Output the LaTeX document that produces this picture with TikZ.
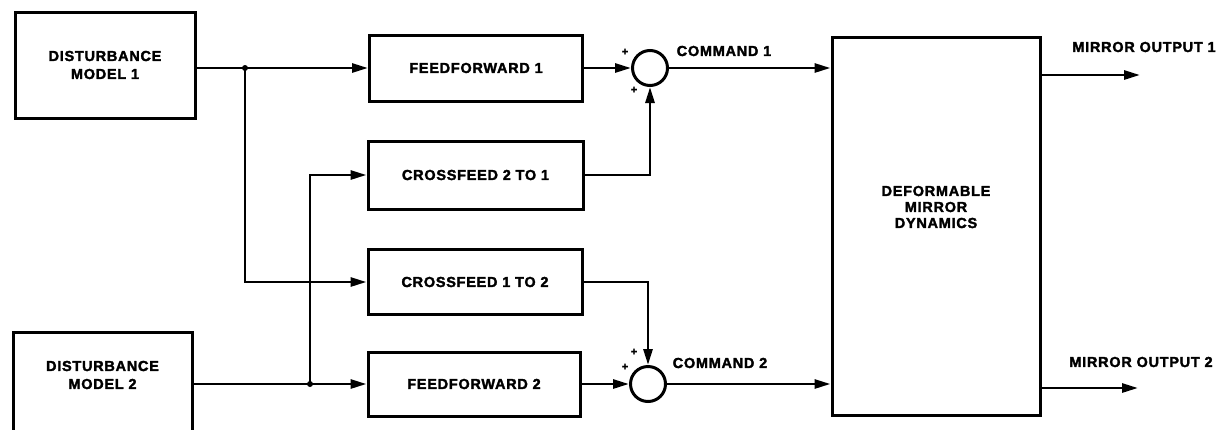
\documentclass[tikz,border=0pt]{standalone}
\usepackage{fontspec}
\setmainfont{Liberation Sans}
\newfontfamily\lblfont{Liberation Sans}[LetterSpace=5, BoldFeatures={FakeBold=2}]
\usetikzlibrary{arrows.meta}
\begin{document}
\begin{tikzpicture}[x=1pt,y=-1pt,
  lbl/.style={font=\lblfont\bfseries\fontsize{14.5}{18}\selectfont, align=center, inner sep=0pt},
  blk/.style={draw, line width=3pt, inner sep=0pt, lbl},
  sumc/.style={draw, circle, line width=3pt, inner sep=0pt, minimum size=35pt},
  wire/.style={line width=2.8pt},
  arr/.style={wire, -{Triangle[length=16pt,width=9pt]}},
  pl/.style={font=\lblfont\bfseries\fontsize{11}{11}\selectfont, inner sep=0pt},
  dot/.style={circle, fill, inner sep=0pt, minimum size=6pt}]
\useasboundingbox (0,0) rectangle (1220,429);
\clip (0,0) rectangle (1220,429);

% blocks
\node[blk, minimum width=180pt, minimum height=106pt] (dm1) at (105,65) {DISTURBANCE\\MODEL 1};
\node[blk, minimum width=179pt, minimum height=108pt,
  label={[lbl,yshift=11pt]center:DISTURBANCE\\MODEL 2}] (dm2) at (102.5,386) {};
\node[blk, minimum width=213pt, minimum height=66pt] (ff1) at (476,68) {FEEDFORWARD 1};
\node[blk, minimum width=215pt, minimum height=68pt] (cf21) at (475.5,175) {CROSSFEED 2 TO 1};
\node[blk, minimum width=214pt, minimum height=65pt] (cf12) at (475,282) {CROSSFEED 1 TO 2};
\node[blk, minimum width=212pt, minimum height=64pt] (ff2) at (474,384) {FEEDFORWARD 2};
\node[blk, minimum width=208pt, minimum height=378pt,
  label={[lbl,yshift=19pt,font=\lblfont\bfseries\fontsize{14.5}{16}\selectfont]center:DEFORMABLE\\MIRROR\\DYNAMICS}] (dmd) at (936,226) {};

% summing junctions
\node[sumc] (s1) at (650,68) {};
\node[sumc] (s2) at (648,384) {};

% junction points and free ends
\coordinate (j1) at (245,68);
\coordinate (j2) at (310,384);
\coordinate (o1) at (1140,75);
\coordinate (o2) at (1138,388);

% connectors
\draw[wire] (dm1.east |- j1) -- (j1);
\draw[arr] (j1) -- (ff1.west);
\draw[arr] (j1) |- (cf12.west);
\node[dot] (d1) at (j1) {};

\draw[wire] (dm2.east |- j2) -- (j2);
\draw[arr] (j2) -- (ff2.west);
\draw[arr] (j2) |- (cf21.west);
\node[dot] (d2) at (j2) {};

\draw[arr] (ff1.east) -- (s1.west);
\draw[arr] (cf21.east) -| (s1.south);
\draw[arr] (cf12.east) -| (s2.north);
\draw[arr] (ff2.east) -- (s2.west);

\draw[arr] (s1.east) -- (dmd.west |- s1);
\draw[arr] (s2.east) -- (dmd.west |- s2);

\draw[arr] (dmd.east |- o1) -- (o1);
\draw[arr] (dmd.east |- o2) -- (o2);

% labels
\node[lbl] (c1) at (724,51) {COMMAND 1};
\node[lbl] (c2) at (720,363) {COMMAND 2};
\node[lbl] (m1) at (1144,47) {MIRROR OUTPUT 1};
\node[lbl] (m2) at (1141,362) {MIRROR OUTPUT 2};

% plus signs
\node[pl] (p1) at (625,52) {+};
\node[pl] (p2) at (634,90) {+};
\node[pl] (p3) at (634,352) {+};
\node[pl] (p4) at (625,367) {+};
\end{tikzpicture}
\end{document}
